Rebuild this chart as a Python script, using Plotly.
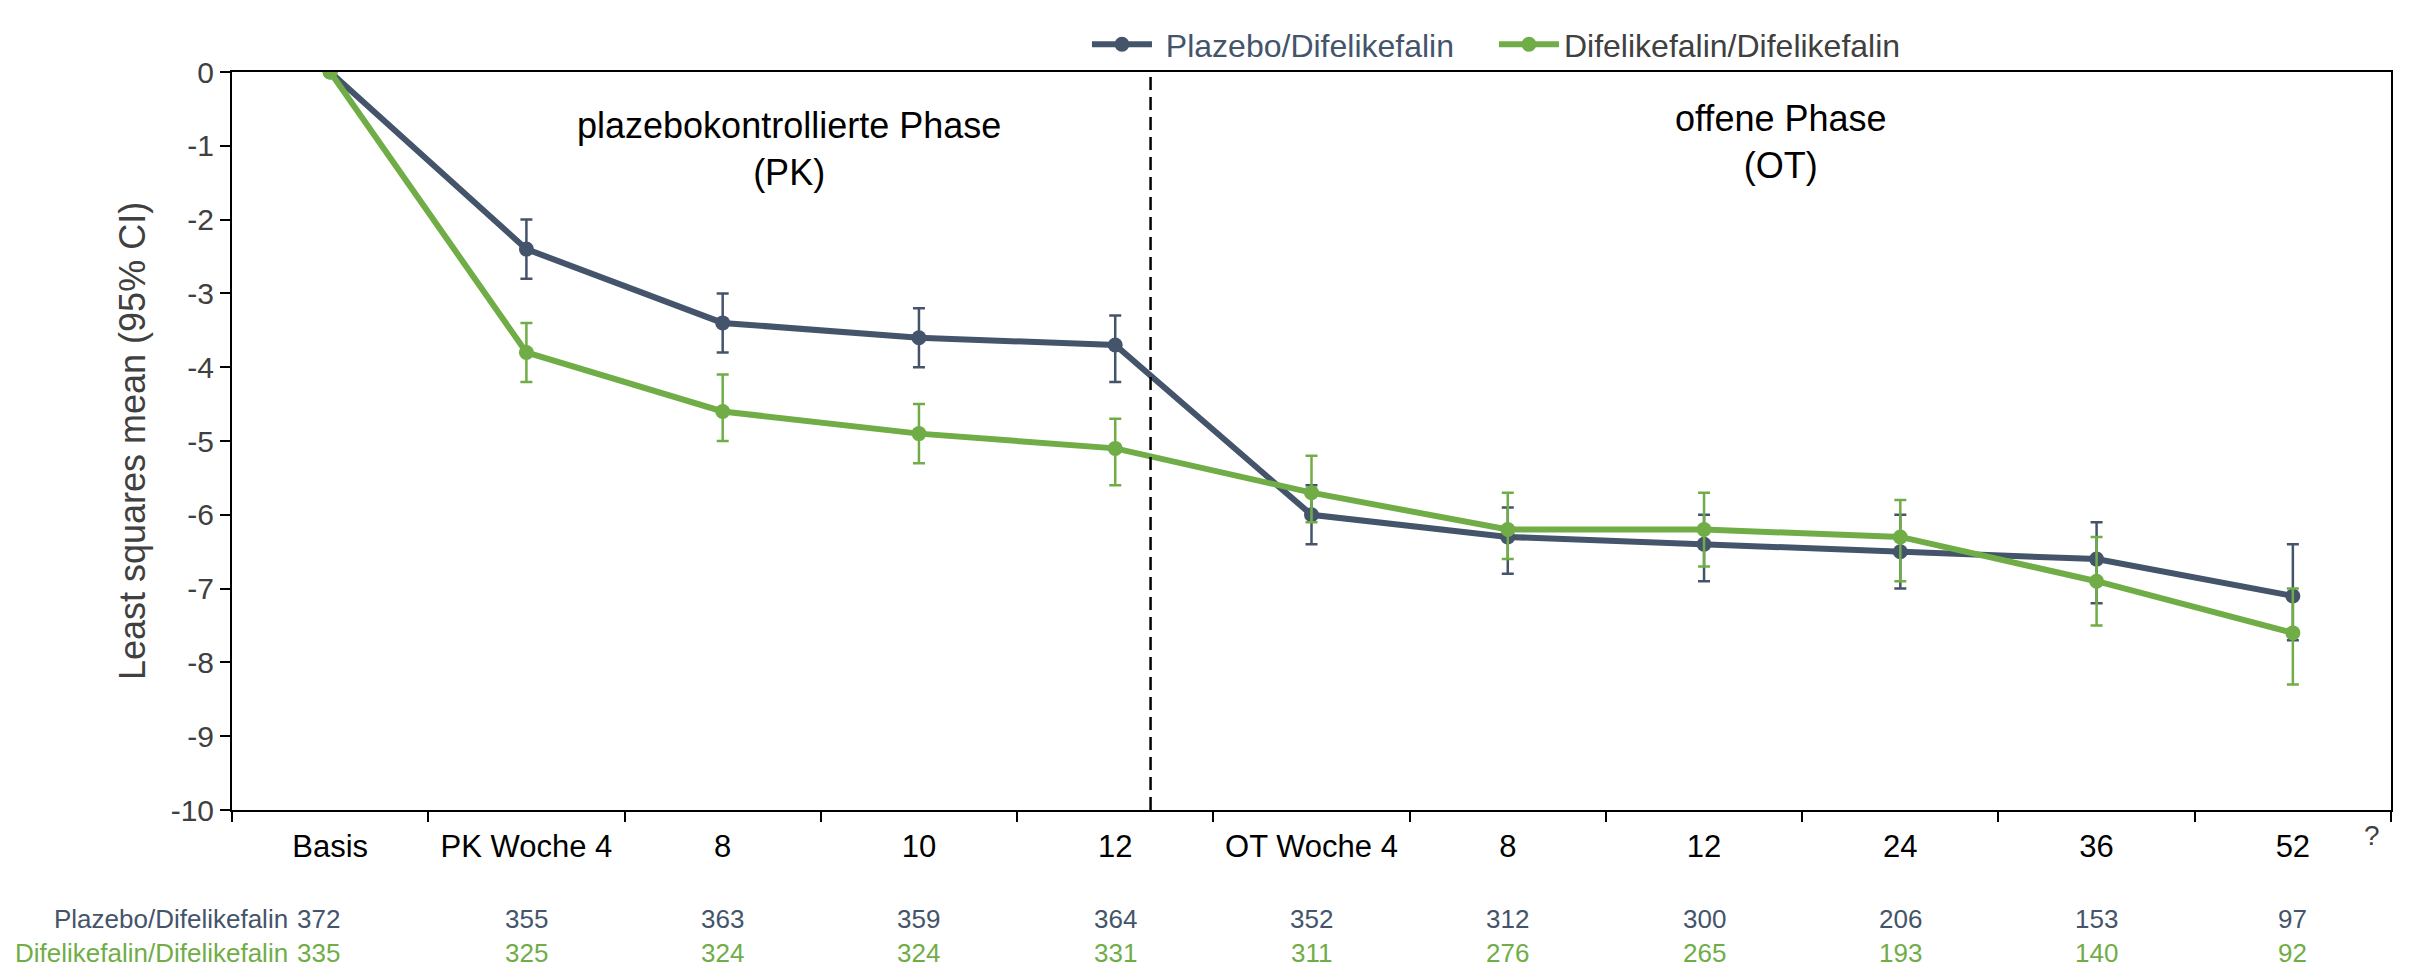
import plotly.graph_objects as go

# Visits on the x axis (category keys must be unique, ticktext gives the shown labels)
categories = ["Basis", "PK Woche 4", "PK 8", "PK 10", "PK 12",
              "OT Woche 4", "OT 8", "OT 12", "OT 24", "OT 36", "OT 52"]
tick_labels = ["Basis", "PK Woche 4", "8", "10", "12",
               "OT Woche 4", "8", "12", "24", "36", "52"]

# Least squares means with 95% confidence limits
placebo_mean = [0, -2.4, -3.4, -3.6, -3.7, -6.0, -6.3, -6.4, -6.5, -6.6, -7.1]
placebo_upper = [0, -2.0, -3.0, -3.2, -3.3, -5.6, -5.9, -6.0, -6.0, -6.1, -6.4]
placebo_lower = [0, -2.8, -3.8, -4.0, -4.2, -6.4, -6.8, -6.9, -7.0, -7.2, -7.7]

difel_mean = [0, -3.8, -4.6, -4.9, -5.1, -5.7, -6.2, -6.2, -6.3, -6.9, -7.6]
difel_upper = [0, -3.4, -4.1, -4.5, -4.7, -5.2, -5.7, -5.7, -5.8, -6.3, -7.0]
difel_lower = [0, -4.2, -5.0, -5.3, -5.6, -6.1, -6.6, -6.7, -6.9, -7.5, -8.3]

# Number of patients per visit
placebo_n = [372, 355, 363, 359, 364, 352, 312, 300, 206, 153, 97]
difel_n = [335, 325, 324, 324, 331, 311, 276, 265, 193, 140, 92]

# Y axis ticks
y_ticks = [0, -1, -2, -3, -4, -5, -6, -7, -8, -9, -10]

series_names = ["Plazebo/Difelikefalin", "Difelikefalin/Difelikefalin"]
DARK = "#44546A"
GREEN = "#70AD47"
GREY = "#404040"
FONT = "Liberation Sans, Arial, sans-serif"

# Position of the phase separator (between week 12 and OT week 4)
phase_split = 4.18

fig = go.Figure()


def add_series(legend_text, mean, upper, lower, color):
    plus = [u - m for u, m in zip(upper, mean)]
    minus = [m - l for m, l in zip(mean, lower)]
    fig.add_trace(go.Scatter(
        x=categories, y=mean, name=legend_text,
        mode="lines+markers",
        line=dict(color=color, width=6),
        marker=dict(color=color, size=15),
        error_y=dict(type="data", symmetric=False, array=plus,
                     arrayminus=minus, color=color, thickness=2.5, width=6),
    ))


add_series("\u00a0" + series_names[0],
           placebo_mean, placebo_upper, placebo_lower, DARK)
add_series(f'<span style="color:{GREY}">{series_names[1]}</span>',
           difel_mean, difel_upper, difel_lower, GREEN)

# Phase separator
fig.add_shape(type="line", xref="x", yref="y", x0=phase_split, x1=phase_split,
              y0=-10, y1=0, line=dict(color="black", width=2.5, dash="13px,7px"))

# Phase labels
fig.add_annotation(x=2.34, y=-1.05, xref="x", yref="y",
                   text="plazebokontrollierte Phase<br>(PK)", showarrow=False,
                   font=dict(family=FONT, size=36, color="black"), align="center")
fig.add_annotation(x=7.39, y=-0.95, xref="x", yref="y",
                   text="offene Phase<br>(OT)", showarrow=False,
                   font=dict(family=FONT, size=36, color="black"), align="center")

# Patient-count table under the axis
row_y = [-0.148, -0.194]
for label, counts, color, ry in zip(series_names, [placebo_n, difel_n],
                                    [DARK, GREEN], row_y):
    fig.add_annotation(x=0.027, y=ry, xref="paper", yref="paper",
                       text=label, showarrow=False, xanchor="right",
                       yanchor="middle",
                       font=dict(family=FONT, size=26, color=color))
    for i, n in enumerate(counts):
        fig.add_annotation(x=i, y=ry, xref="x", yref="paper", text=str(n),
                           showarrow=False, xanchor="center", yanchor="middle",
                           xshift=-12 if i == 0 else 0,
                           font=dict(family=FONT, size=26, color=color))

# Clipped glyph at the right end of the axis labels
fig.add_annotation(x=0.996, y=-0.058, xref="paper", yref="paper", text="?",
                   showarrow=False, font=dict(family=FONT, size=28, color=GREY))

fig.update_layout(
    width=2409, height=967,
    margin=dict(l=232, r=18, t=72, b=157),
    paper_bgcolor="white", plot_bgcolor="white",
    font=dict(family=FONT, color="black"),
    showlegend=True,
    legend=dict(orientation="h", x=0.396, y=1.0, xanchor="left",
                yanchor="bottom", itemwidth=60, entrywidth=332,
                font=dict(family=FONT, size=32, color=DARK),
                bgcolor="rgba(0,0,0,0)"),
    xaxis=dict(
        type="category", categoryorder="array", categoryarray=categories,
        range=[-0.5, len(categories) - 0.5],
        tickmode="array", tickvals=categories, ticktext=tick_labels,
        tickson="boundaries", ticklabelstandoff=8,
        ticks="outside", ticklen=10, tickwidth=2, tickcolor="black",
        showline=True, linecolor="black", linewidth=2, mirror=True,
        showgrid=False, zeroline=False,
        tickfont=dict(family=FONT, size=31, color="black"),
    ),
    yaxis=dict(
        range=[-10, 0], tickmode="array", tickvals=y_ticks,
        ticktext=[str(v) for v in y_ticks],
        ticks="outside", ticklen=10, tickwidth=2, tickcolor="black",
        showline=True, linecolor="black", linewidth=2, mirror=True,
        showgrid=False, zeroline=False,
        tickfont=dict(family=FONT, size=30, color=GREY),
        title=dict(text="Least squares mean (95% CI)",
                   font=dict(family=FONT, size=36, color=GREY),
                   standoff=14),
    ),
)

fig.write_html("out.html")
